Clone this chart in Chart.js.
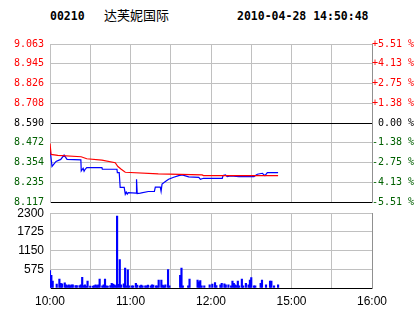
<!DOCTYPE html>
<html>
<head>
<meta charset="utf-8">
<script src="https://cdn.jsdelivr.net/npm/chart.js@4.4.0/dist/chart.umd.min.js"></script>
<style>
    html, body { margin: 0; padding: 0; background: #fff; }
    body { width: 414px; height: 314px; position: relative; overflow: hidden; }
    .cabecalho { position: absolute; top: 9px; font: bold 11.5px "DejaVu Sans Mono", monospace; line-height: 14px; color: #000; white-space: pre; }
    #codigo { left: 50px; }
    #nome { left: 104px; top: 7px; font: 13px "Noto Sans CJK SC", sans-serif; line-height: 16px; }
    #hora { left: 237px; }
    #areaPreco { position: absolute; left: 0; top: 0; }
    #areaVolume { position: absolute; left: 0; top: 200px; }
</style>
</head>
<body>
<div class="cabecalho" id="codigo">00210</div>
<div class="cabecalho" id="nome">达芙妮国际</div>
<div class="cabecalho" id="hora">2010-04-28 14:50:48</div>
<canvas id="areaPreco" width="414" height="214"></canvas>
<canvas id="areaVolume" width="414" height="114"></canvas>
<script>
// Dados (minutos de negociação desde as 10:00)
const tempoPreco = [0, 1.5, 4.5, 8, 10.5, 12.7, 23, 23.3, 24.7, 25.4, 26.2, 27.4, 38.7, 39, 49.9, 50.2, 51.6, 52.3, 55.3, 56.1,
    56.8, 57.6, 58.3, 64.2, 64.5, 65, 67.3, 73.3, 77.8, 78.5, 82.2, 82.8, 83.5, 86, 88.4, 92.2, 95.9, 98.5, 103.4, 110.9,
    112.1, 114.4, 128.4, 129, 130.8, 132.1, 134.6, 140.8, 152, 154.5, 158.3, 160.2, 162, 170];
const preco = [8.437, 8.330, 8.360, 8.372, 8.398, 8.372, 8.369, 8.303, 8.319, 8.301, 8.313, 8.323, 8.323, 8.313, 8.313, 8.293, 8.293, 8.204, 8.204, 8.164,
    8.176, 8.164, 8.173, 8.170, 8.253, 8.167, 8.170, 8.180, 8.180, 8.206, 8.206, 8.180, 8.224, 8.240, 8.253, 8.265, 8.275, 8.279, 8.267, 8.265,
    8.253, 8.259, 8.259, 8.275, 8.279, 8.269, 8.273, 8.269, 8.269, 8.283, 8.289, 8.275, 8.293, 8.293];

const tempoMedia = [0, 0.8, 5.8, 23.2, 27.4, 38.7, 48.6, 50.6, 53.1, 56.1, 80.7, 113.4, 114.4, 170];
const precoMedio = [8.467, 8.402, 8.396, 8.388, 8.376, 8.368, 8.352, 8.329, 8.313, 8.295, 8.285, 8.279, 8.275, 8.275];

const tempoVolume = [0, 1, 2, 5, 7, 8, 9, 11, 12, 13, 14, 15, 16, 17, 19, 20, 22, 23, 24, 25,
    26, 27, 28, 30, 32, 33, 34, 35, 36, 37, 39, 40, 41, 42, 43, 45, 46, 47, 48, 49,
    50, 51, 52, 53, 55, 56, 57, 58, 59, 61, 62, 64, 65, 67, 68, 69, 71, 72, 73, 75,
    76, 77, 79, 80, 81, 83, 84, 85, 86, 88, 89, 97, 98, 99, 103, 104, 110, 111, 112, 113,
    115, 119, 121, 123, 124, 127, 128, 130, 131, 133, 135, 136, 137, 138, 139, 140, 141, 143, 144, 146,
    148, 149, 150, 152, 153, 157, 158, 161, 164, 165, 167, 170];
const volume = [535, 390, 215, 117, 272, 146, 126, 156, 97, 78, 97, 78, 97, 97, 78, 78, 78, 97, 330, 78,
    97, 58, 214, 58, 58, 78, 97, 78, 97, 272, 68, 97, 272, 68, 58, 78, 146, 117, 97, 78,
    2210, 110, 877, 97, 126, 614, 68, 555, 68, 68, 68, 146, 88, 68, 88, 68, 68, 68, 88, 68,
    97, 88, 68, 68, 243, 243, 88, 68, 97, 565, 68, 390, 614, 68, 68, 272, 243, 190, 225, 68,
    68, 97, 117, 166, 78, 97, 146, 126, 97, 97, 68, 214, 146, 97, 78, 214, 68, 272, 68, 146,
    97, 243, 321, 68, 68, 146, 243, 97, 214, 214, 68, 97];

const ticksPreco = [8.117, 8.235, 8.354, 8.472, 8.590, 8.708, 8.826, 8.945, 9.063];
const rotulosPreco = ['8.117', '8.235', '8.354', '8.472', '8.590', '8.708', '8.826', '8.945', '9.063'];
const rotulosPct = ['-5.51 %', '-4.13 %', '-2.75 %', '-1.38 %', ' 0.00 %', '+1.38 %', '+2.75 %', '+4.13 %', '+5.51 %'];
const ticksVolume = [0, 575, 1150, 1725, 2300];
const rotulosVolume = ['', '575', '1150', '1725', '2300'];
const ticksHora = [0, 60, 120, 180, 240];
const rotulosHora = ['10:00', '11:00', '12:00', '15:00', '16:00'];

const PRECO_FECHO = 8.590;
const corGrade = '#c0c0c0';
const corBorda = '#909090';
const fonteEixo = { family: 'DejaVu Sans Mono', size: 10 };
const fonteVolume = { family: 'Liberation Sans', size: 12 };

Chart.defaults.animation = false;
Chart.defaults.plugins.legend.display = false;
Chart.defaults.plugins.tooltip.enabled = false;

function pontos(xs, ys) {
    return xs.map((x, i) => ({ x, y: ys[i] }));
}

function corPorNivel(indice) {
    const v = ticksPreco[indice];
    if (v > PRECO_FECHO) return '#ff0000';
    if (v < PRECO_FECHO) return '#006000';
    return '#000000';
}

function fixarTicks(valores) {
    return (eixo) => { eixo.ticks = valores.map(v => ({ value: v })); };
}

function eixoHoras(mostrarRotulos, altura) {
    return {
        type: 'linear',
        min: 0,
        max: 240,
        offset: false,
        afterFit: (eixo) => { eixo.height = altura; },
        grid: { color: corGrade, drawTicks: false, offset: false },
        border: { color: '#000000' },
        ticks: {
            display: mostrarRotulos,
            stepSize: 30,
            autoSkip: false,
            maxRotation: 0,
            padding: 6,
            color: '#000000',
            font: fonteVolume,
            callback: (valor) => {
                const i = ticksHora.indexOf(valor);
                return i >= 0 ? rotulosHora[i] : '';
            }
        }
    };
}

// Gráfico de preço
new Chart(document.getElementById('areaPreco'), {
    type: 'line',
    data: {
        datasets: [
            {
                data: pontos(tempoMedia, precoMedio),
                borderColor: '#ff0000',
                borderWidth: 1.2,
                pointRadius: 0,
                tension: 0
            },
            {
                data: pontos(tempoPreco, preco),
                borderColor: '#0000ff',
                borderWidth: 1.2,
                pointRadius: 0,
                tension: 0
            }
        ]
    },
    options: {
        responsive: false,
        layout: { padding: { top: 44, bottom: 11, left: 0, right: 0 } },
        scales: {
            x: eixoHoras(false, 0),
            y: {
                position: 'left',
                min: 8.117,
                max: 9.063,
                afterBuildTicks: fixarTicks(ticksPreco),
                afterFit: (eixo) => { eixo.width = 50; },
                grid: {
                    drawTicks: false,
                    color: (ctx) => (ctx.tick && (ctx.tick.value === PRECO_FECHO || ctx.index === 0)) ? '#000000' : corGrade
                },
                border: { color: corGrade },
                ticks: {
                    padding: 6,
                    font: fonteEixo,
                    color: (ctx) => corPorNivel(ctx.index),
                    callback: (valor, indice) => rotulosPreco[indice]
                }
            },
            yPct: {
                position: 'right',
                min: 8.117,
                max: 9.063,
                afterBuildTicks: fixarTicks(ticksPreco),
                afterFit: (eixo) => { eixo.width = 42; },
                grid: { drawOnChartArea: false, drawTicks: false },
                border: { color: corBorda },
                ticks: {
                    padding: 0,
                    font: fonteEixo,
                    color: (ctx) => corPorNivel(ctx.index),
                    callback: (valor, indice) => rotulosPct[indice]
                }
            }
        }
    }
});

// Gráfico de volume
new Chart(document.getElementById('areaVolume'), {
    type: 'bar',
    data: {
        datasets: [{
            data: pontos(tempoVolume, volume),
            backgroundColor: '#0000ff',
            barThickness: 1.5
        }]
    },
    options: {
        responsive: false,
        layout: { padding: { top: 9, bottom: 0, left: 0, right: 0 } },
        scales: {
            x: eixoHoras(true, 26),
            y: {
                position: 'left',
                min: 0,
                max: 2300,
                afterBuildTicks: fixarTicks(ticksVolume),
                afterFit: (eixo) => { eixo.width = 50; },
                grid: {
                    drawTicks: false,
                    color: (ctx) => (ctx.tick && ctx.tick.value === 0) ? '#000000' : corGrade
                },
                border: { color: corGrade },
                ticks: {
                    padding: 6,
                    font: fonteVolume,
                    color: '#000000',
                    callback: (valor, indice) => rotulosVolume[indice]
                }
            },
            yDir: {
                position: 'right',
                min: 0,
                max: 2300,
                afterFit: (eixo) => { eixo.width = 42; },
                grid: { drawOnChartArea: false, drawTicks: false },
                border: { color: corBorda },
                ticks: { display: false }
            }
        }
    }
});
</script>
</body>
</html>
